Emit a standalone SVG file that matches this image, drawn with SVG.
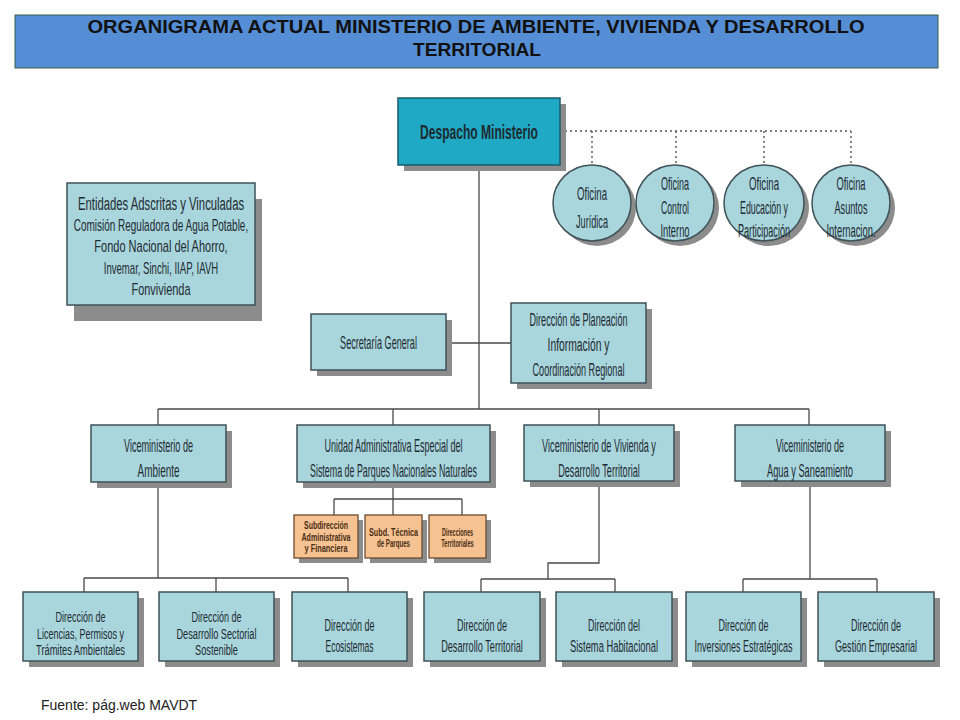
<svg xmlns="http://www.w3.org/2000/svg" width="960" height="720" viewBox="0 0 960 720">
<style>
.bg{fill:#ffffff}
.box{fill:#A9D5DD;stroke:#3F5258;stroke-width:1.5}
.top{fill:#1FA9C5;stroke:#1B5B6B;stroke-width:1.5}
.org{fill:#F6C291;stroke:#6B4A2F;stroke-width:1.3}
.sh{fill:#8C8C8C}
.t{font-family:"Liberation Sans",Arial,sans-serif;fill:#1E2B30;text-anchor:middle}
.f14{font-size:14.5px}
.f16{font-size:16px}
.f17{font-size:17px}
.f18{font-size:18px}
.ot{font-family:"Liberation Sans",Arial,sans-serif;fill:#4A2E16;text-anchor:middle;font-size:11px;font-weight:bold}
.ln{stroke:#4A4A4A;stroke-width:1.3;fill:none}
.dot{stroke:#555555;stroke-width:1.4;stroke-dasharray:2 3;fill:none}
.ttl{font-family:"Liberation Sans",Arial,sans-serif;font-weight:bold;font-size:18px;fill:#111111;text-anchor:middle}
</style>
<rect class="bg" x="0" y="0" width="960" height="720"/>

<g id="title">
<rect x="15" y="15" width="923" height="53" fill="#558ED5" stroke="#3B5E4A" stroke-width="1"/>
<text class="ttl" x="476" y="33" textLength="777" lengthAdjust="spacingAndGlyphs">ORGANIGRAMA ACTUAL MINISTERIO DE AMBIENTE, VIVIENDA Y DESARROLLO</text>
<text class="ttl" x="477" y="56" textLength="128" lengthAdjust="spacingAndGlyphs">TERRITORIAL</text>
</g>

<g id="connectors">
<path class="dot" d="M560 131 H851 M592 131 V165 M676 131 V165 M764 131 V165 M851 131 V165"/>
<path class="ln" d="M479 165 V409 M446 343 H511 M158 409 H809 M158 409 V425 M393 409 V425 M599 409 V425 M809 409 V425"/>
<path class="ln" d="M393 482 V515 M334 499 H462 M334 499 V515 M462 499 V515"/>
<path class="ln" d="M158 482 V578 M84 578 H348 M84 578 V592 M216 578 V592 M348 578 V592"/>
<path class="ln" d="M599 481 V563 H548 V579 M481 579 H615 M481 579 V592 M615 579 V592"/>
<path class="ln" d="M810 481 V579 M743 579 H877 M743 579 V592 M877 579 V592"/>
</g>

<g id="despacho">
<rect class="sh" x="404" y="104" width="162" height="67"/>
<rect class="top" x="398" y="98" width="162" height="67"/>
<text class="t" font-size="20" font-weight="bold" transform="translate(479 139) scale(0.603 1)">Despacho Ministerio</text>
</g>

<g id="of-juridica">
<ellipse class="sh" cx="597" cy="208" rx="39" ry="38"/>
<ellipse class="box" cx="592" cy="203" rx="39" ry="38"/>
<text class="t f18" transform="translate(592 200) scale(0.536 1)">Oficina</text>
<text class="t f18" transform="translate(592 228) scale(0.508 1)">Jurídica</text>
</g>

<g id="of-control">
<ellipse class="sh" cx="680" cy="208" rx="39" ry="38"/>
<ellipse class="box" cx="675" cy="203" rx="39" ry="38"/>
<text class="t f18" transform="translate(675 190) scale(0.5 1)">Oficina</text>
<text class="t f18" transform="translate(675 213.5) scale(0.483 1)">Control</text>
<text class="t f18" transform="translate(675 237) scale(0.518 1)">Interno</text>
</g>

<g id="of-educacion">
<ellipse class="sh" cx="769" cy="208" rx="40" ry="38"/>
<ellipse class="box" cx="764" cy="203" rx="40" ry="38"/>
<text class="t f18" transform="translate(764 190) scale(0.536 1)">Oficina</text>
<text class="t f18" transform="translate(764 213.5) scale(0.49 1)">Educación y</text>
<text class="t f18" transform="translate(764 237) scale(0.505 1)">Participación</text>
</g>

<g id="of-asuntos">
<ellipse class="sh" cx="856" cy="208" rx="39" ry="38"/>
<ellipse class="box" cx="851" cy="203" rx="39" ry="38"/>
<text class="t f18" transform="translate(851 190) scale(0.518 1)">Oficina</text>
<text class="t f18" transform="translate(851 213.5) scale(0.508 1)">Asuntos</text>
<text class="t f18" transform="translate(851 237) scale(0.521 1)">Internacion.</text>
</g>

<g id="entidades">
<rect class="sh" x="74" y="199" width="188" height="122"/>
<rect class="box" x="67" y="183" width="188" height="122"/>
<text class="t f18" transform="translate(161 209.5) scale(0.628 1)">Entidades Adscritas y Vinculadas</text>
<text class="t f16" transform="translate(161 230.5) scale(0.623 1)">Comisión Reguladora de Agua Potable,</text>
<text class="t f16" transform="translate(161 252) scale(0.688 1)">Fondo Nacional del Ahorro,</text>
<text class="t f16" transform="translate(161 273.5) scale(0.598 1)">Invemar, Sinchi, IIAP, IAVH</text>
<text class="t f16" transform="translate(161 294.5) scale(0.684 1)">Fonvivienda</text>
</g>

<g id="secretaria">
<rect class="sh" x="317" y="320" width="135" height="56"/>
<rect class="box" x="311" y="314" width="135" height="56"/>
<text class="t f18" transform="translate(378.5 349) scale(0.506 1)">Secretaría General</text>
</g>

<g id="planeacion">
<rect class="sh" x="517" y="309" width="135" height="80"/>
<rect class="box" x="511" y="303" width="135" height="80"/>
<text class="t f18" transform="translate(578.5 326) scale(0.505 1)">Dirección de Planeación</text>
<text class="t f18" transform="translate(578.5 351) scale(0.574 1)">Información y</text>
<text class="t f18" transform="translate(578.5 376) scale(0.505 1)">Coordinación Regional</text>
</g>

<g id="vm-ambiente">
<rect class="sh" x="97" y="431" width="135" height="57"/>
<rect class="box" x="91" y="425" width="135" height="57"/>
<text class="t f18" transform="translate(158.5 452) scale(0.505 1)">Viceministerio de</text>
<text class="t f18" transform="translate(158.5 477) scale(0.552 1)">Ambiente</text>
</g>

<g id="uae-parques">
<rect class="sh" x="303" y="431" width="193" height="57"/>
<rect class="box" x="297" y="425" width="193" height="57"/>
<text class="t f18" transform="translate(393.5 452) scale(0.501 1)">Unidad Administrativa Especial del</text>
<text class="t f18" transform="translate(393.5 477) scale(0.494 1)">Sistema de Parques Nacionales Naturales</text>
</g>

<g id="vm-vivienda">
<rect class="sh" x="530" y="431" width="150" height="56"/>
<rect class="box" x="524" y="425" width="150" height="56"/>
<text class="t f18" transform="translate(599 452) scale(0.507 1)">Viceministerio de Vivienda y</text>
<text class="t f18" transform="translate(599 477) scale(0.509 1)">Desarrollo Territorial</text>
</g>

<g id="vm-agua">
<rect class="sh" x="741" y="431" width="150" height="56"/>
<rect class="box" x="735" y="425" width="150" height="56"/>
<text class="t f18" transform="translate(810 452) scale(0.498 1)">Viceministerio de</text>
<text class="t f18" transform="translate(810 477) scale(0.515 1)">Agua y Saneamiento</text>
</g>

<g id="sub-administrativa">
<rect class="sh" x="299" y="520" width="64" height="43"/>
<rect class="org" x="294" y="515" width="64" height="43"/>
<text class="ot" transform="translate(326 529) scale(0.631 1)">Subdirección</text>
<text class="ot" transform="translate(326 541) scale(0.642 1)">Administrativa</text>
<text class="ot" transform="translate(326 552) scale(0.67 1)">y Financiera</text>
</g>

<g id="sub-tecnica">
<rect class="sh" x="370" y="520" width="57" height="43"/>
<rect class="org" x="365" y="515" width="57" height="43"/>
<text class="ot" transform="translate(393.5 536) scale(0.657 1)">Subd. Técnica</text>
<text class="ot" transform="translate(393.5 547) scale(0.557 1)">de Parques</text>
</g>

<g id="dir-territoriales">
<rect class="sh" x="434" y="520" width="57" height="43"/>
<rect class="org" x="429" y="515" width="57" height="43"/>
<text class="ot" transform="translate(457.5 536) scale(0.5 1)">Direcciones</text>
<text class="ot" transform="translate(457.5 547) scale(0.519 1)">Territoriales</text>
</g>

<g id="dir-licencias">
<rect class="sh" x="29" y="598" width="115" height="69"/>
<rect class="box" x="23" y="592" width="115" height="69"/>
<text class="t f14" transform="translate(80.5 622) scale(0.620 1)">Dirección de</text>
<text class="t f14" transform="translate(80.5 638.5) scale(0.620 1)">Licencias, Permisos y</text>
<text class="t f14" transform="translate(80.5 655) scale(0.641 1)">Trámites Ambientales</text>
</g>

<g id="dir-sectorial">
<rect class="sh" x="165" y="598" width="115" height="69"/>
<rect class="box" x="159" y="592" width="115" height="69"/>
<text class="t f14" transform="translate(216.5 622) scale(0.620 1)">Dirección de</text>
<text class="t f14" transform="translate(216.5 638.5) scale(0.633 1)">Desarrollo Sectorial</text>
<text class="t f14" transform="translate(216.5 655) scale(0.635 1)">Sostenible</text>
</g>

<g id="dir-ecosistemas">
<rect class="sh" x="298" y="598" width="115" height="69"/>
<rect class="box" x="292" y="592" width="115" height="69"/>
<text class="t f17" transform="translate(349.5 631) scale(0.529 1)">Dirección de</text>
<text class="t f17" transform="translate(349.5 652) scale(0.498 1)">Ecosistemas</text>
</g>

<g id="dir-territorial">
<rect class="sh" x="430" y="598" width="116" height="69"/>
<rect class="box" x="424" y="592" width="116" height="69"/>
<text class="t f17" transform="translate(482 631) scale(0.529 1)">Dirección de</text>
<text class="t f17" transform="translate(482 652) scale(0.539 1)">Desarrollo Territorial</text>
</g>

<g id="dir-habitacional">
<rect class="sh" x="562" y="598" width="116" height="69"/>
<rect class="box" x="556" y="592" width="116" height="69"/>
<text class="t f17" transform="translate(614 631) scale(0.529 1)">Dirección del</text>
<text class="t f17" transform="translate(614 652) scale(0.551 1)">Sistema Habitacional</text>
</g>

<g id="dir-inversiones">
<rect class="sh" x="692" y="598" width="115" height="69"/>
<rect class="box" x="686" y="592" width="115" height="69"/>
<text class="t f17" transform="translate(743.5 631) scale(0.529 1)">Dirección de</text>
<text class="t f17" transform="translate(743.5 652) scale(0.529 1)">Inversiones Estratégicas</text>
</g>

<g id="dir-gestion">
<rect class="sh" x="824" y="598" width="116" height="69"/>
<rect class="box" x="818" y="592" width="116" height="69"/>
<text class="t f17" transform="translate(876 631) scale(0.529 1)">Dirección de</text>
<text class="t f17" transform="translate(876 652) scale(0.532 1)">Gestión Empresarial</text>
</g>

<g id="fuente">
<text x="41" y="710" font-family="'Liberation Sans',Arial,sans-serif" font-size="14" fill="#222222">Fuente: pág.web MAVDT</text>
</g>
</svg>
